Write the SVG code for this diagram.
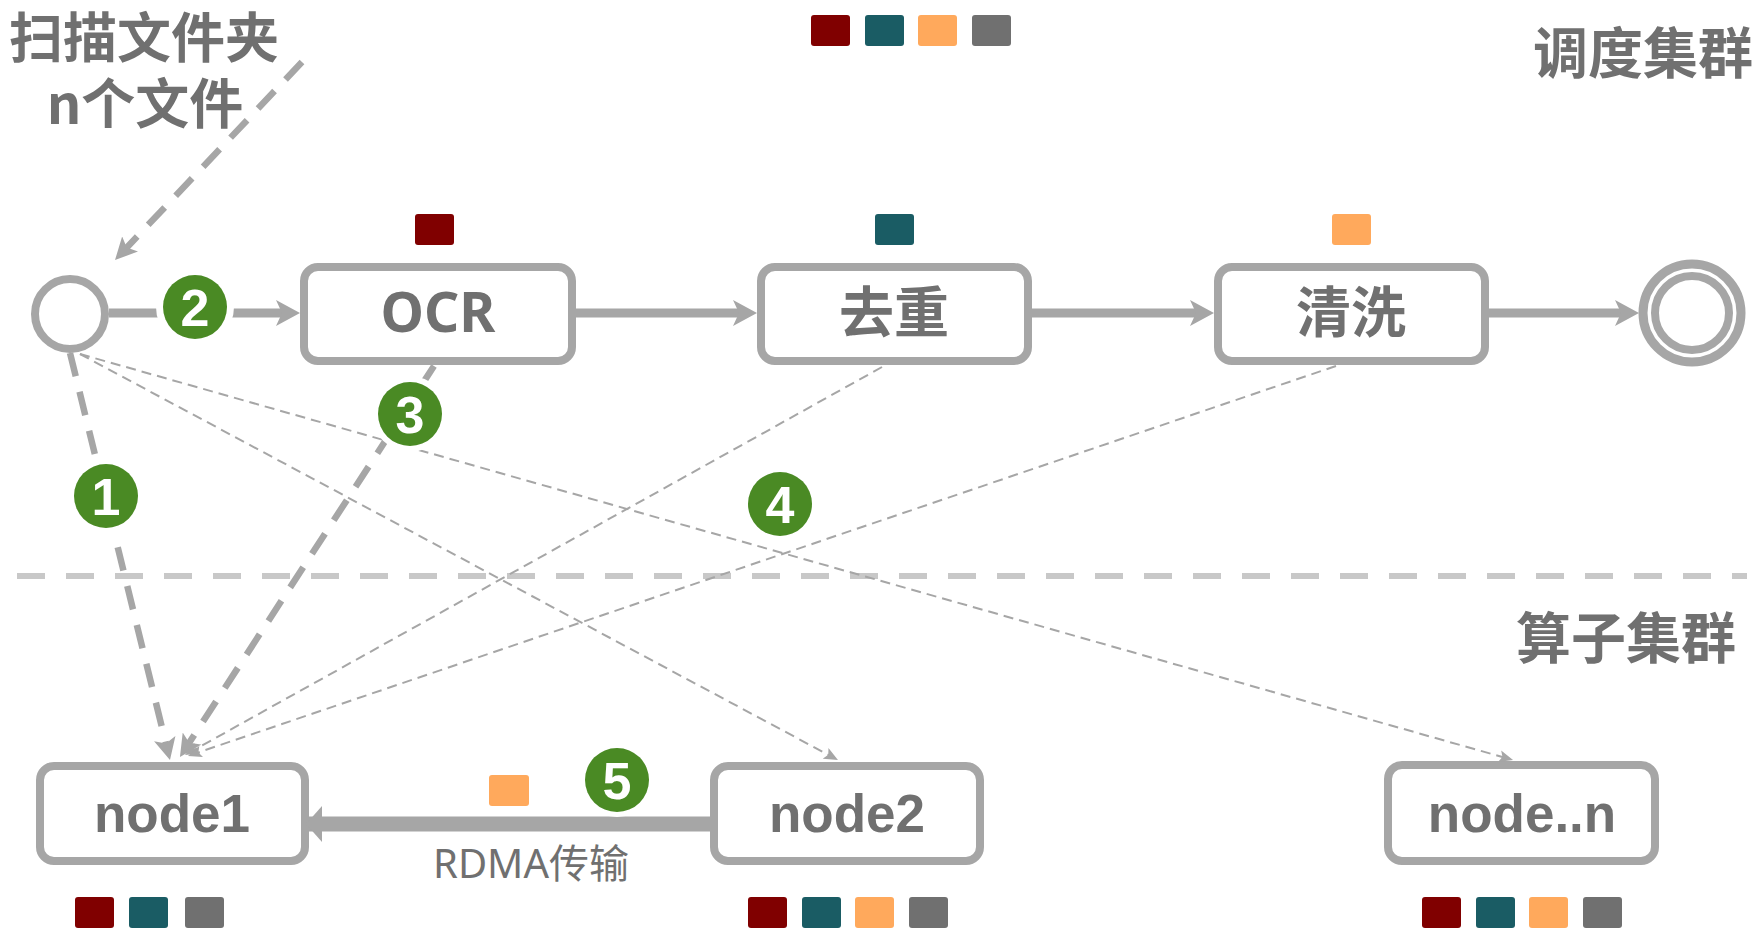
<svg xmlns="http://www.w3.org/2000/svg" width="1762" height="944" viewBox="0 0 1762 944">
<style>
.box{fill:#fff;stroke:#a6a6a6;stroke-width:8}
.lbl{fill:#707070;font-family:"Liberation Sans","Noto Sans CJK SC",sans-serif;font-weight:700;text-anchor:middle}
.cjk{fill:#707070;font-family:"Noto Sans CJK SC",sans-serif;font-weight:700}
.flow{stroke:#a6a6a6;stroke-width:9;fill:none}
.dash{stroke:#a6a6a6;stroke-width:6.5;fill:none;stroke-dasharray:24 16}
.thin{stroke:#a6a6a6;stroke-width:2;fill:none;stroke-dasharray:10 6}
.sq{stroke:none}
.c1{fill:#800000}.c2{fill:#1a5c64}.c3{fill:#ffa95c}.c4{fill:#707070}
.halo{fill:#fff}
.bg{fill:#4a8a24}
.num{fill:#fff;font-family:"Liberation Sans",sans-serif;font-weight:700;font-size:52px;text-anchor:middle}
</style>
<defs>
<marker id="ah" viewBox="0 0 24 26" refX="12" refY="13" markerWidth="24" markerHeight="26" markerUnits="userSpaceOnUse" orient="auto"><path d="M24,13 L0,0 L6,13 L0,26 Z" fill="#a6a6a6"/></marker>
<marker id="ahd" viewBox="0 0 22 22" refX="12" refY="11" markerWidth="22" markerHeight="22" markerUnits="userSpaceOnUse" orient="auto"><path d="M22,11 L0,0 L5,11 L0,22 Z" fill="#a6a6a6"/></marker>
<marker id="aht" viewBox="0 0 14 12" refX="7" refY="6" markerWidth="14" markerHeight="12" markerUnits="userSpaceOnUse" orient="auto"><path d="M14,6 L0,0 L3,6 L0,12 Z" fill="#a6a6a6"/></marker>
<marker id="ahr" viewBox="0 0 16 36" refX="13" refY="18" markerWidth="16" markerHeight="36" markerUnits="userSpaceOnUse" orient="auto"><path d="M16,18 L0,0 L0,36 Z" fill="#a6a6a6"/></marker>
</defs>
<rect width="1762" height="944" fill="#fff"/>

<g id="titles">
<text class="cjk" font-size="54" text-anchor="middle"><tspan x="144" y="58">扫描文件夹</tspan><tspan x="145" y="124">n个文件</tspan></text>
<text class="cjk" x="1753" y="73" font-size="55" text-anchor="end">调度集群</text>
<text class="cjk" x="1736" y="658" font-size="55" text-anchor="end">算子集群</text>
</g>

<g id="legend-top">
<rect class="sq c1" x="811" y="15" width="39" height="31" rx="3"/>
<rect class="sq c2" x="865" y="15" width="39" height="31" rx="3"/>
<rect class="sq c3" x="918" y="15" width="39" height="31" rx="3"/>
<rect class="sq c4" x="972" y="15" width="39" height="31" rx="3"/>
</g>

<line id="separator" x1="17" y1="576" x2="1747" y2="576" stroke="#c8c8c8" stroke-width="6" stroke-dasharray="28 21"/>

<g id="start">
<circle cx="70" cy="314" r="35" fill="#fff" stroke="#a6a6a6" stroke-width="8"/>
</g>
<g id="end">
<circle cx="1692" cy="313" r="49" fill="#fff" stroke="#a6a6a6" stroke-width="9"/>
<circle cx="1692" cy="313" r="37" fill="none" stroke="#a6a6a6" stroke-width="8"/>
</g>

<g id="ocr">
<rect class="box" x="304" y="267" width="268" height="94" rx="14"/>
<text x="438" y="332" font-size="55" fill="#707070" text-anchor="middle" style="font-family:'Noto Sans',sans-serif;font-weight:700">OCR</text>
<rect class="sq c1" x="415" y="214" width="39" height="31" rx="3"/>
</g>
<g id="dedup">
<rect class="box" x="761" y="267" width="267" height="94" rx="14"/>
<text class="cjk" x="894" y="332" font-size="55" text-anchor="middle">去重</text>
<rect class="sq c2" x="875" y="214" width="39" height="31" rx="3"/>
</g>
<g id="clean">
<rect class="box" x="1218" y="267" width="267" height="94" rx="14"/>
<text class="cjk" x="1351" y="332" font-size="55" text-anchor="middle">清洗</text>
<rect class="sq c3" x="1332" y="214" width="39" height="31" rx="3"/>
</g>

<g id="node1">
<rect class="box" x="40" y="766" width="265" height="95" rx="14"/>
<text class="lbl" x="172" y="832" font-size="53">node1</text>
<rect class="sq c1" x="75" y="897" width="39" height="31" rx="3"/>
<rect class="sq c2" x="129" y="897" width="39" height="31" rx="3"/>
<rect class="sq c4" x="185" y="897" width="39" height="31" rx="3"/>
</g>
<g id="node2">
<rect class="box" x="714" y="766" width="266" height="95" rx="14"/>
<text class="lbl" x="847" y="832" font-size="53">node2</text>
<rect class="sq c1" x="748" y="897" width="39" height="31" rx="3"/>
<rect class="sq c2" x="802" y="897" width="39" height="31" rx="3"/>
<rect class="sq c3" x="855" y="897" width="39" height="31" rx="3"/>
<rect class="sq c4" x="909" y="897" width="39" height="31" rx="3"/>
</g>
<g id="noden">
<rect class="box" x="1388" y="765" width="267" height="96" rx="14"/>
<text class="lbl" x="1522" y="832" font-size="53">node..n</text>
<rect class="sq c1" x="1422" y="897" width="39" height="31" rx="3"/>
<rect class="sq c2" x="1476" y="897" width="39" height="31" rx="3"/>
<rect class="sq c3" x="1529" y="897" width="39" height="31" rx="3"/>
<rect class="sq c4" x="1583" y="897" width="39" height="31" rx="3"/>
</g>

<g id="connectors">
<line class="dash" stroke-width="6" x1="302" y1="62" x2="121.9" y2="252.7" marker-end="url(#ahd)"/>
<line class="flow" x1="109" y1="313" x2="288" y2="313" marker-end="url(#ah)"/>
<line class="flow" x1="576" y1="313" x2="745" y2="313" marker-end="url(#ah)"/>
<line class="flow" x1="1031" y1="313" x2="1202" y2="313" marker-end="url(#ah)"/>
<line class="flow" x1="1489" y1="313" x2="1627" y2="313" marker-end="url(#ah)"/>
<line class="dash" x1="70" y1="353" x2="167.6" y2="750.3" marker-end="url(#ahd)"/>
<line class="dash" x1="434" y1="366" x2="185.4" y2="748.6" marker-end="url(#ahd)"/>
<line class="thin" x1="80" y1="354" x2="831.8" y2="756.7" marker-end="url(#aht)"/>
<line class="thin" x1="80" y1="354" x2="1506.3" y2="758.1" marker-end="url(#aht)"/>
<line class="thin" x1="882" y1="367" x2="191.1" y2="751.6" marker-end="url(#aht)"/>
<line class="thin" x1="1336" y1="366" x2="194.6" y2="753.7" marker-end="url(#aht)"/>
<line stroke="#a6a6a6" stroke-width="15" x1="710" y1="824" x2="309" y2="824" marker-end="url(#ahr)"/>
<rect class="sq c3" x="489" y="775" width="40" height="31" rx="3"/>
<text x="531" y="878" font-size="40" fill="#707070" text-anchor="middle" style="font-family:'Noto Sans','Noto Sans CJK SC',sans-serif">RDMA传输</text>
</g>

<g id="badge1"><circle class="halo" cx="106" cy="496" r="38"/><circle class="bg" cx="106" cy="496" r="32"/><text class="num" x="106" y="515">1</text></g>
<g id="badge2"><circle class="halo" cx="195" cy="307" r="39"/><circle class="bg" cx="195" cy="307" r="32"/><text class="num" x="195" y="326">2</text></g>
<g id="badge3"><circle class="halo" cx="410" cy="414" r="38"/><circle class="bg" cx="410" cy="414" r="32"/><text class="num" x="410" y="433">3</text></g>
<g id="badge4"><circle class="halo" cx="780" cy="504" r="38"/><circle class="bg" cx="780" cy="504" r="32"/><text class="num" x="780" y="523">4</text></g>
<g id="badge5"><circle class="halo" cx="617" cy="780" r="37"/><circle class="bg" cx="617" cy="780" r="32"/><text class="num" x="617" y="799">5</text></g>
</svg>
